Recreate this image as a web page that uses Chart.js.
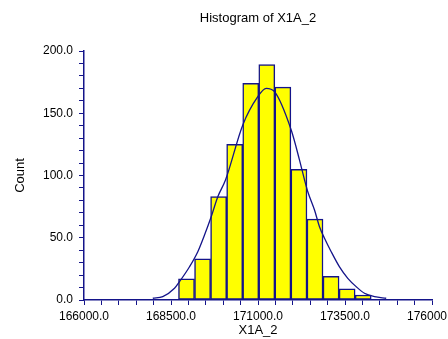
<!DOCTYPE html>
<html lang="en">
<head>
    <meta charset="UTF-8">
    <title>Histogram of X1A_2</title>
    <style>
        body {
            margin: 0;
            background-color: #fff;
        }
    </style>
    <script src="https://cdn.jsdelivr.net/npm/chart.js"></script>
</head>
<body>
    <canvas id="histChart" width="448" height="339"></canvas>

    <script>
        // Histogram bins (edges) and counts
        const binEdges = [168715, 169176.5, 169638, 170099.5, 170561, 171022.5, 171484,
                          171945.5, 172407, 172868.5, 173330, 173791.5, 174253];
        const counts = [17, 33, 83, 125, 174, 189, 171, 105, 65, 19, 9, 4];

        // Fitted normal curve
        const curveX = [167977, 168264, 168601, 168744, 169032, 169270, 169463, 169655, 169845,
                        170066, 170563, 170994, 171236, 171474, 171954, 172193, 172336, 172431,
                        172624, 172767, 172911, 173103, 173342, 173580, 173822, 174060, 174348, 174684];
        const curveY = [1.4, 2.7, 9.4, 14.7, 26.7, 38.8, 52.2, 66.9, 83,
                        96.4, 140.6, 163.3, 170, 167.3, 136.5, 112.4, 96.6, 87,
                        72.3, 58.9, 49.6, 38.8, 26.6, 17.4, 10.7, 5.4, 2.7, 1.4];

        // Axis ranges: labelled every 2500 on x, every 50 on y
        const xMin = 166000, xMax = 176000, xMinor = 500, xMajor = 2500;
        const yMin = 0, yMax = 200, yMinor = 10, yMajor = 50;

        const navy = '#14148a';
        const fontFamily = '"Liberation Sans", Arial, sans-serif';

        const barData = counts.map((c, i) => ({ x: (binEdges[i] + binEdges[i + 1]) / 2, y: c }));
        const curveData = curveX.map((x, i) => ({ x: x, y: curveY[i] }));

        const ctx = document.getElementById('histChart').getContext('2d');
        new Chart(ctx, {
            type: 'bar',
            data: {
                datasets: [
                    {
                        type: 'line',
                        data: curveData,
                        borderColor: navy,
                        borderWidth: 1.3,
                        pointRadius: 0,
                        cubicInterpolationMode: 'monotone',
                        order: 0
                    },
                    {
                        data: barData,
                        backgroundColor: '#ffff00',
                        borderColor: navy,
                        borderWidth: 1.5,
                        borderSkipped: false,
                        categoryPercentage: 1,
                        barPercentage: 1,
                        order: 1
                    }
                ]
            },
            options: {
                responsive: false,
                animation: false,
                layout: {
                    padding: { left: 0, right: 16, top: 0, bottom: 0 }
                },
                plugins: {
                    legend: { display: false },
                    tooltip: { enabled: false },
                    title: {
                        display: true,
                        text: 'Histogram of X1A_2',
                        fullSize: false,
                        color: '#000',
                        font: { family: fontFamily, size: 13, weight: 'normal' },
                        padding: { top: 10.2, bottom: 25.2 }
                    }
                },
                scales: {
                    x: {
                        type: 'linear',
                        min: xMin,
                        max: xMax,
                        offset: false,
                        grid: {
                            offset: false,
                            drawOnChartArea: false,
                            drawTicks: true,
                            tickLength: 5,
                            color: navy
                        },
                        border: { display: true, color: navy, width: 1.5 },
                        ticks: {
                            stepSize: xMinor,
                            maxTicksLimit: 100,
                            autoSkip: false,
                            maxRotation: 0,
                            padding: 4,
                            color: '#000',
                            font: { family: fontFamily, size: 12 },
                            callback: v => ((v - xMin) % xMajor === 0 ? v.toFixed(1) : '')
                        },
                        title: {
                            display: true,
                            text: 'X1A_2',
                            color: '#000',
                            font: { family: fontFamily, size: 13 },
                            padding: { top: 0, bottom: 1 }
                        },
                        afterFit: scale => {
                            scale.height = 39;
                            scale.paddingLeft = 0;
                            scale.paddingRight = 0;
                        }
                    },
                    y: {
                        min: yMin,
                        max: yMax,
                        grid: {
                            drawOnChartArea: false,
                            drawTicks: true,
                            tickLength: 5,
                            color: navy
                        },
                        border: { display: true, color: navy, width: 1.5 },
                        ticks: {
                            stepSize: yMinor,
                            maxTicksLimit: 100,
                            autoSkip: false,
                            padding: 6,
                            color: '#000',
                            font: { family: fontFamily, size: 12 },
                            callback: v => (v % yMajor === 0 ? v.toFixed(1) : '')
                        },
                        title: {
                            display: true,
                            text: 'Count',
                            color: '#000',
                            font: { family: fontFamily, size: 13 },
                            padding: { top: 13, bottom: 0 }
                        },
                        afterFit: scale => {
                            scale.width = 84;
                            scale.paddingTop = 0;
                            scale.paddingBottom = 0;
                        }
                    }
                }
            }
        });
    </script>
</body>
</html>
